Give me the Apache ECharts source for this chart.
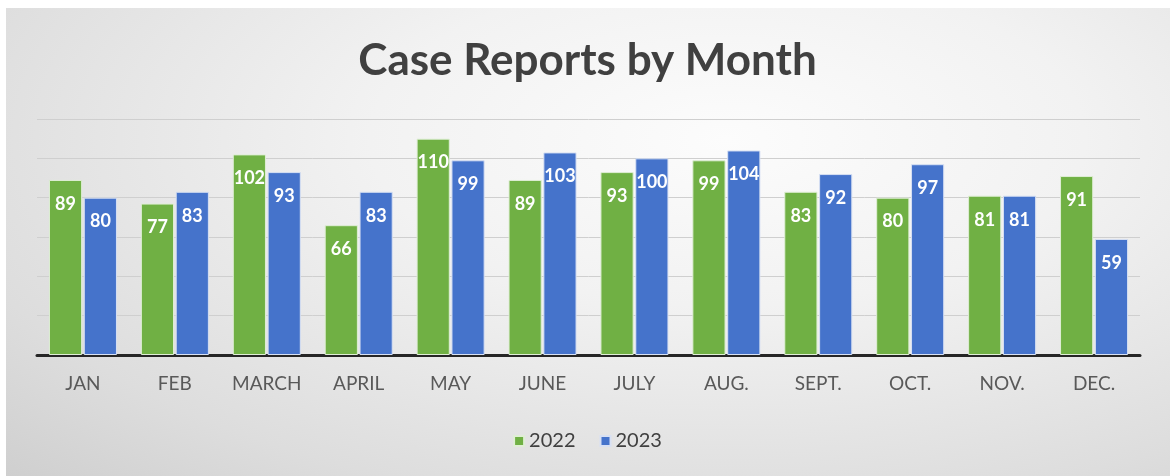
<!DOCTYPE html>
<html>
<head>
<meta charset="utf-8">
<script src="https://cdn.jsdelivr.net/npm/echarts@6/dist/echarts.min.js"></script>
<style>
  html, body { margin: 0; padding: 0; background: #ffffff; }
  #bg {
    position: absolute; left: 6px; top: 8px; width: 1164px; height: 468px;
    background: radial-gradient(ellipse at 62% 28%, #fcfcfc 0%, #f2f2f2 35%, #dddddd 78%, #cfcfcf 100%);
  }
  #main { position: absolute; left: 0; top: 0; width: 1175px; height: 476px; }
</style>
</head>
<body>
<div id="bg"></div>
<div id="main"></div>
<script>
var months = ['JAN', 'FEB', 'MARCH', 'APRIL', 'MAY', 'JUNE', 'JULY', 'AUG.', 'SEPT.', 'OCT.', 'NOV.', 'DEC.'];
var cases2022 = [89, 77, 102, 66, 110, 89, 93, 99, 83, 80, 81, 91];
var cases2023 = [80, 83, 93, 83, 99, 103, 100, 104, 92, 97, 81, 59];
var seriesNames = ['2022', '2023'];

var myChart = echarts.init(document.getElementById('main'));

var barLabel = {
  show : true,
  position : 'insideTop',
  distance : 15,
  color : '#ffffff',
  fontFamily : 'Lato',
  fontWeight : 'bold',
  fontSize : 18
};

var option = {
  backgroundColor : 'transparent',
  title : {
    text : 'Case Reports by Month',
    left : 'center',
    top : 34,
    textStyle : {
      fontFamily : 'Lato',
      fontWeight : 'bold',
      fontSize : 44,
      color : '#404040'
    }
  },
  legend : {
    data : seriesNames,
    left : 'center',
    top : 426,
    itemWidth : 10,
    itemHeight : 10,
    itemGap : 24,
    icon : 'rect',
    textStyle : {
      fontFamily : 'Lato',
      fontSize : 20,
      color : '#404040'
    }
  },
  grid : {
    left : 37,
    right : 35,
    top : 119,
    bottom : 121
  },
  xAxis : {
    type : 'category',
    data : months,
    axisLine : {
      lineStyle : { color : '#262626', width : 3 }
    },
    axisTick : { show : false },
    axisLabel : {
      margin : 19,
      fontFamily : 'Lato',
      fontSize : 19,
      color : '#595959'
    }
  },
  yAxis : {
    type : 'value',
    min : 0,
    max : 120,
    interval : 20,
    axisLabel : { show : false },
    axisLine : { show : false },
    axisTick : { show : false },
    splitLine : {
      lineStyle : { color : '#cfcfcf', width : 1 }
    }
  },
  series : [ {
    name : seriesNames[0],
    type : 'bar',
    data : cases2022,
    barGap : '5%',
    barCategoryGap : '26%',
    itemStyle : { color : '#70b044', borderColor : '#dfeed5', borderWidth : 1 },
    label : barLabel
  }, {
    name : seriesNames[1],
    type : 'bar',
    data : cases2023,
    itemStyle : { color : '#4573cb', borderColor : '#d7e0f3', borderWidth : 1 },
    label : barLabel
  } ]
};
myChart.setOption(option);
</script>
</body>
</html>
